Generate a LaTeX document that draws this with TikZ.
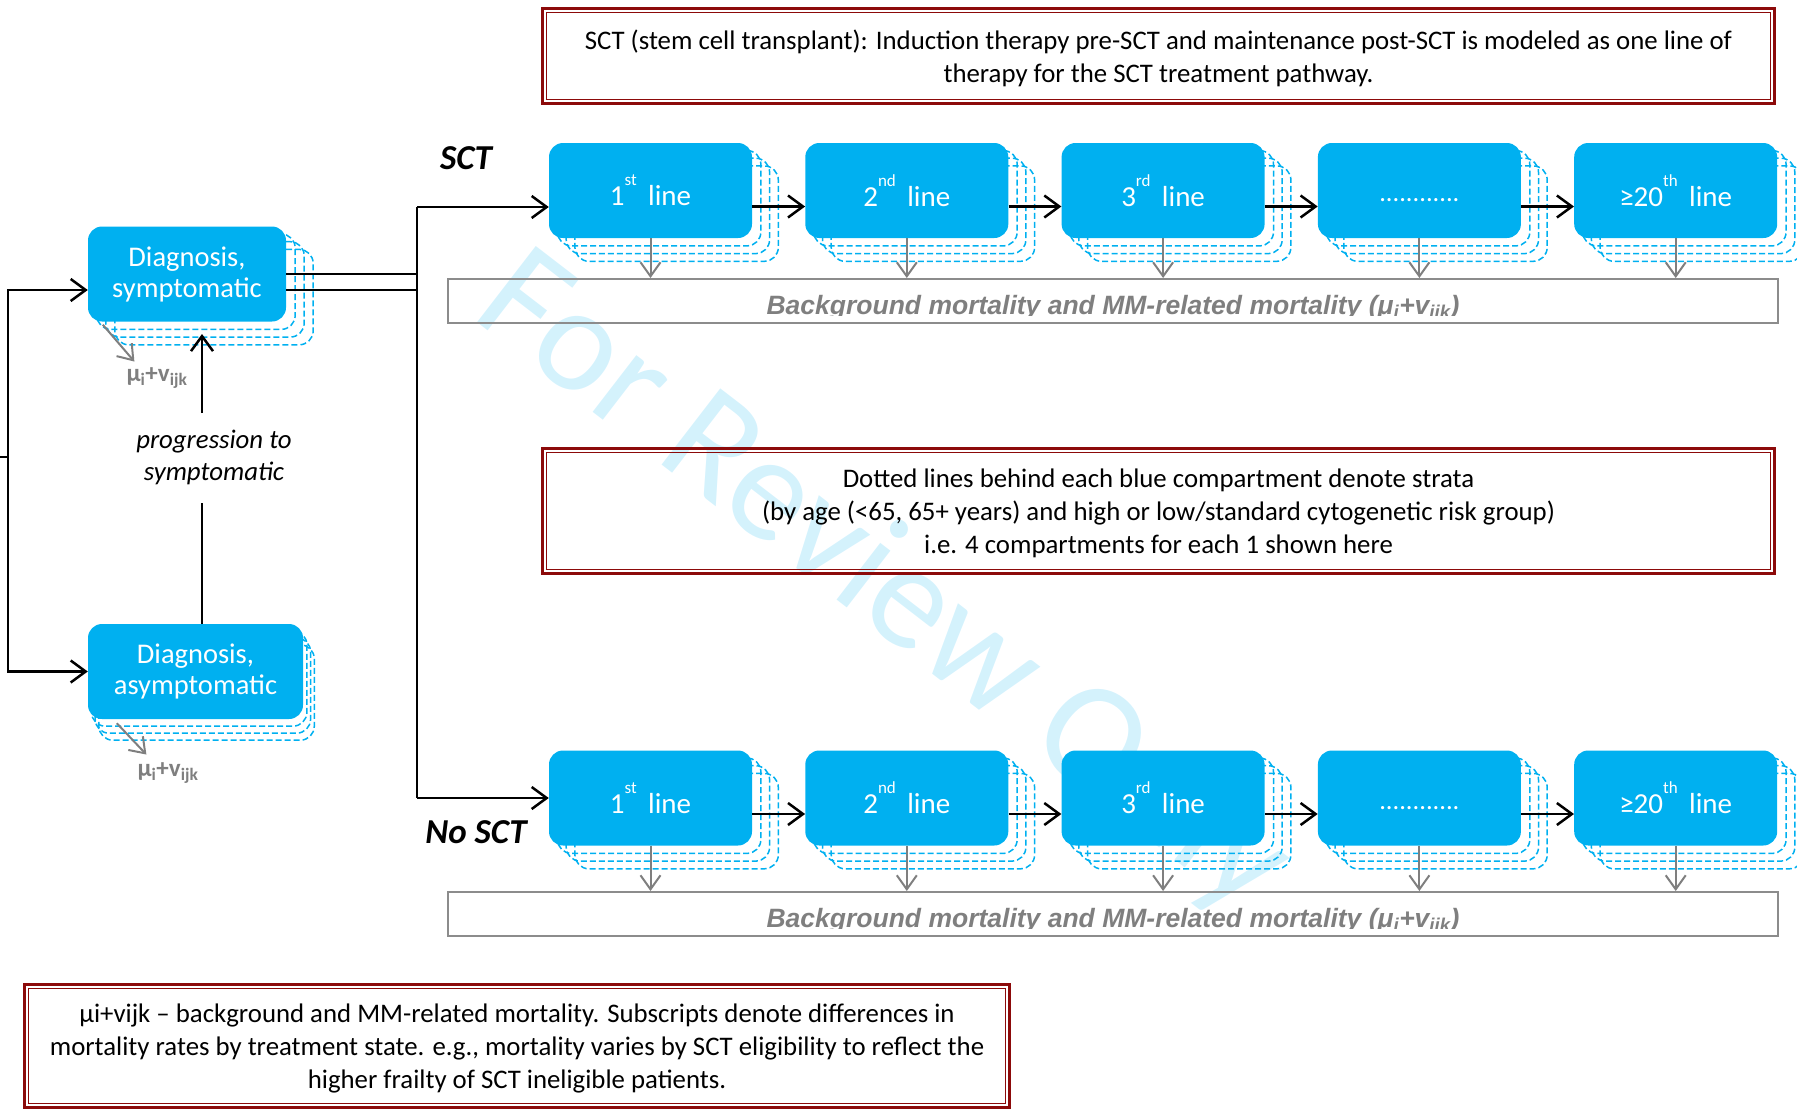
\documentclass[tikz,border=0pt]{standalone}
\usepackage{fontspec}
\setmainfont{Carlito}
\newfontfamily\arialfont{Liberation Sans}
\usetikzlibrary{positioning, arrows.meta, calc, backgrounds}
\definecolor{boxblue}{HTML}{00B0F0}
\definecolor{notered}{HTML}{8C0A0A}
\definecolor{mortgray}{HTML}{7F7F7F}
\definecolor{bargray}{HTML}{8C8C8C}
\newcommand{\ordsup}[1]{\raisebox{20pt}{\fontsize{17}{17}\selectfont #1}\,}
% three dashed strata drawn behind a compartment
\newcommand{\strata}[3]{\foreach \k in {1,2,3}{%
  \draw[stratum] ($(#1.north west)+(\k*#2,\k*#3)$) rectangle ($(#1.south east)+(\k*#2,\k*#3)$);}}

\begin{document}
\begin{tikzpicture}[x=1pt, y=-1pt,
  flow/.style={line width=2.5pt, draw=black},
  tip/.style={-{Straight Barb[length=15pt,width=22pt]}},
  linebox/.style={rounded corners=14pt, fill=boxblue, text=white, minimum width=203pt, minimum height=95pt, inner sep=0pt, font=\fontsize{29}{34}\selectfont},
  diagbox/.style={rounded corners=14pt, fill=boxblue, text=white, minimum height=95pt, inner sep=0pt, align=center, font=\fontsize{28.5}{31}\selectfont},
  stratum/.style={draw=boxblue, line width=1.5pt, dash pattern=on 6pt off 3pt, rounded corners=14pt},
  note/.style={draw=notered, line width=2.5pt, align=center, inner sep=0pt, text depth=-1pt, font=\fontsize{26.8}{33}\selectfont,
    append after command={\pgfextra{\draw[notered, line width=1.3pt] ($(\tikzlastnode.north west)+(5.5,5.5)$) rectangle ($(\tikzlastnode.south east)+(-5.5,-5.5)$);}}},
  mortbar/.style={draw=bargray, line width=2pt, minimum width=1330pt, minimum height=44pt, inner sep=0pt},
  bartext/.style={anchor=base, text=mortgray, inner sep=0pt, font=\arialfont\fontsize{26.5}{26.5}\selectfont\bfseries\itshape},
  mort/.style={draw=mortgray, line width=2pt, -{Straight Barb[length=14pt,width=20pt]}},
  mulabel/.style={text=mortgray, inner sep=0pt, font=\fontsize{25}{25}\selectfont\bfseries},
  armlabel/.style={inner sep=0pt, font=\fontsize{35}{35}\selectfont\bfseries\itshape}]
\useasboundingbox (0,0) rectangle (1797,1112);

% notes
\node[note, minimum width=1232pt, minimum height=95pt] (sctnote) at (1158.5,56)
  {SCT (stem cell transplant): Induction therapy pre-SCT and maintenance post-SCT is modeled as one line of\\therapy for the SCT treatment pathway.};
\node[note, minimum width=1232pt, minimum height=125pt] (stratanote) at (1158.5,511)
  {Dotted lines behind each blue compartment denote strata\\(by age (<65, 65+ years) and high or low/standard cytogenetic risk group)\\i.e. 4 compartments for each 1 shown here};
\node[note, minimum width=985pt, minimum height=123pt] (munote) at (517,1046)
  {μi+vijk – background and MM-related mortality. Subscripts denote differences in\\mortality rates by treatment state. e.g., mortality varies by SCT eligibility to reflect the\\higher frailty of SCT ineligible patients.};

% diagnosis compartments
\node[diagbox, minimum width=198pt] (dsym) at (187,274) {Diagnosis,\\symptomatic};
\node[diagbox, minimum width=215pt] (dasym) at (195.5,671.5) {Diagnosis,\\asymptomatic};
\node[mulabel] (mu1) at (157,378) {μ\textsubscript{i}+v\textsubscript{ijk}};
\node[mulabel] (mu2) at (168,773) {μ\textsubscript{i}+v\textsubscript{ijk}};
\node[align=center, inner sep=0pt, font=\fontsize{26.8}{32}\selectfont\itshape] (prog) at (214,457) {progression to\\symptomatic};

% lines of therapy
\node[armlabel] (sctlab) at (466,158) {SCT};
\node[armlabel] (nosctlab) at (476,832) {No SCT};
\foreach \i/\lab in {1/{1\ordsup{st} line}, 2/{2\ordsup{nd} line}, 3/{3\ordsup{rd} line},
    4/{\vphantom{1\ordsup{st}line}\raisebox{4pt}{\fontsize{26.5}{34}\selectfont............}}, 5/{≥20\ordsup{th} line}}{
  \node[linebox] (s\i) at ({650.5+256.3*(\i-1)},190.5) {\lab};
  \node[linebox] (n\i) at ({650.5+256.3*(\i-1)},798) {\lab};
}
\node[mortbar] (sbar) at (1113,301) {};
\node[mortbar] (nbar) at (1113,914) {};
\begin{scope}
  \clip (sbar.north west) rectangle ($(sbar.south east)+(0,-9)$);
  \node[bartext] (stext) at (1113,314) {Background mortality and MM-related mortality (μ\textsubscript{i}+v\textsubscript{ijk})};
\end{scope}
\begin{scope}
  \clip (nbar.north west) rectangle ($(nbar.south east)+(0,-9)$);
  \node[bartext] (ntext) at (1113,927) {Background mortality and MM-related mortality (μ\textsubscript{i}+v\textsubscript{ijk})};
\end{scope}

% connectors
\coordinate (entry) at (0,457);
\coordinate (loop) at (8,457);
\coordinate (sctin) at (417,207);
\coordinate (nosctin) at (417,798);
\coordinate (ptop) at (202,413);
\coordinate (ptip) at (202,334);
\coordinate (pbot) at (202,503);
\draw[flow] (entry) -- (loop);
\draw[flow, tip] (loop) |- ($(dsym.west)+(0,16)$);
\draw[flow, tip] (loop) |- (dasym.west);
\draw[flow] (dsym.east) -- (dsym.east -| sctin);
\draw[flow] ($(dsym.east)+(0,16)$) -- ($(dsym.east -| sctin)+(0,16)$);
\draw[flow] (sctin) -- (nosctin);
\draw[flow, tip] (sctin) -- (sctin -| s1.west);
\draw[flow, tip] (nosctin) -- (n1.west);
\draw[flow, tip] (ptop) -- (ptip);
\draw[flow] (pbot) -- (pbot |- dasym.north);
\foreach \i [evaluate=\i as \j using int(\i+1)] in {1,...,4}{
  \draw[flow, tip] ($(s\i.east)+(0,16)$) -- ($(s\j.west)+(0,16)$);
  \draw[flow, tip] ($(n\i.east)+(0,16)$) -- ($(n\j.west)+(0,16)$);
}
\foreach \i in {1,...,5}{
  \draw[mort] (s\i.south) -- (s\i.south |- sbar.north);
  \draw[mort] (n\i.south) -- (n\i.south |- nbar.north);
}
\draw[mort] ($(dsym.south west)+(15,3)$) -- ($(mu1.north west)+(8,-6)$);
\draw[mort] ($(dasym.south west)+(29,4)$) -- ($(mu2.north west)+(9,-8)$);

\begin{scope}[on background layer]
  \node[rotate=-37.6, text=boxblue, opacity=0.17, inner sep=0pt, font=\fontsize{150}{150}\selectfont] (wmark) at (883,585) {For Review Only};
  \strata{dsym}{9}{7.7}
  \strata{dasym}{3.7}{7}
  \foreach \i in {1,...,5}{
    \strata{s\i}{8.7}{7.7}
    \strata{n\i}{8.7}{7.7}
  }
\end{scope}
\end{tikzpicture}
\end{document}
